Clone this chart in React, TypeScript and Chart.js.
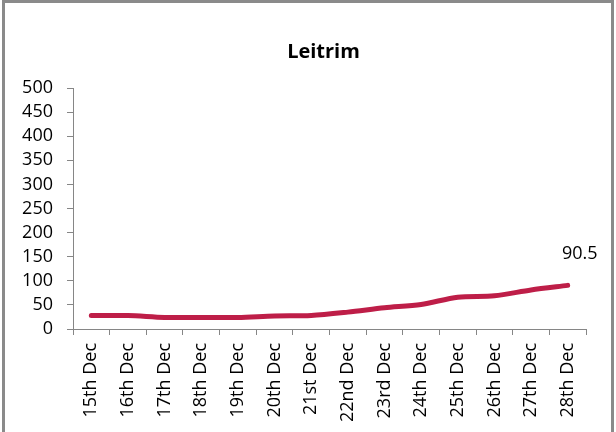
import React, { useEffect, useRef } from "react";
import { Chart, registerables } from "chart.js";

Chart.register(...registerables);

const categories = [
  "15th Dec", "16th Dec", "17th Dec", "18th Dec", "19th Dec", "20th Dec", "21st Dec",
  "22nd Dec", "23rd Dec", "24th Dec", "25th Dec", "26th Dec", "27th Dec", "28th Dec",
];
const values = [28, 28, 24, 24, 24, 27, 28, 35, 44, 51, 66, 69, 81, 90.5];
const lastLabel = "90.5";
const yTicks = { min: 0, max: 500, step: 50 };
const chartTitle = "Leitrim";

const FONT = "'Open Sans', 'DejaVu Sans', sans-serif";
const CANVAS_W = 647;
const CANVAS_H = 432;

const lastValueLabel = {
  id: "lastValueLabel",
  afterDatasetsDraw(chart: any) {
    const meta = chart.getDatasetMeta(0);
    const pt = meta.data[meta.data.length - 1];
    if (!pt) return;
    const ctx = chart.ctx;
    ctx.save();
    ctx.font = `18px ${FONT}`;
    ctx.fillStyle = "#000";
    ctx.textAlign = "center";
    ctx.textBaseline = "middle";
    ctx.fillText(lastLabel, pt.x + 12, pt.y - 32);
    ctx.restore();
  },
};

export default function App() {
  const ref = useRef<HTMLCanvasElement | null>(null);
  useEffect(() => {
    if (!ref.current) return;
    const chart = new Chart(ref.current, {
      type: "line",
      data: {
        labels: categories,
        datasets: [
          {
            data: values,
            borderColor: "#BE1E48",
            borderWidth: 5,
            pointRadius: 0,
            tension: 0.3,
            borderCapStyle: "round",
            fill: false,
            yAxisID: "y",
          },
        ],
      },
      options: {
        responsive: false,
        animation: false,
        layout: { padding: { left: 0, right: 0, top: 0, bottom: 0 } },
        plugins: {
          legend: { display: false },
          tooltip: { enabled: false },
          title: {
            display: true,
            text: chartTitle,
            color: "#000",
            font: { family: FONT, size: 20, weight: "bold", lineHeight: 1.2 },
            padding: { top: 40.5, bottom: 23.5 },
          },
        },
        scales: {
          x: {
            offset: true,
            grid: {
              display: true,
              offset: true,
              drawOnChartArea: false,
              drawTicks: true,
              tickLength: 6,
              color: "#868686",
            },
            border: { display: true, color: "#868686", width: 1 },
            ticks: {
              color: "#000",
              font: { family: FONT, size: 18 },
              minRotation: 90,
              maxRotation: 90,
              padding: 8,
              autoSkip: false,
            },
            afterFit: (scale: any) => {
              scale.height = 103;
            },
          },
          y: {
            min: yTicks.min,
            max: yTicks.max,
            grid: {
              display: true,
              drawOnChartArea: false,
              drawTicks: true,
              tickLength: 6,
              color: "#868686",
            },
            border: { display: true, color: "#868686", width: 1 },
            ticks: {
              stepSize: yTicks.step,
              color: "#000",
              font: { family: FONT, size: 18 },
              padding: 14,
              autoSkip: false,
            },
            afterFit: (scale: any) => {
              scale.width = 73;
            },
          },
          spacer: {
            type: "linear",
            position: "right",
            display: true,
            grid: { display: false, drawTicks: false },
            border: { display: false },
            ticks: { display: false },
            afterFit: (scale: any) => {
              scale.width = 61;
            },
          },
        },
      },
      plugins: [lastValueLabel],
    });
    return () => chart.destroy();
  }, []);

  return (
    <div style={{ position: "absolute", left: 0, top: 0, width: 616, height: 432, overflow: "hidden", background: "#fff" }}>
      <canvas
        ref={ref}
        width={CANVAS_W}
        height={CANVAS_H}
        style={{ position: "absolute", left: 0, top: 0, width: CANVAS_W, height: CANVAS_H }}
      />
      <div
        style={{
          position: "absolute",
          left: 2,
          top: 0,
          width: 612,
          height: 460,
          border: "3px solid #8a8a8a",
          boxSizing: "border-box",
          pointerEvents: "none",
        }}
      />
    </div>
  );
}
